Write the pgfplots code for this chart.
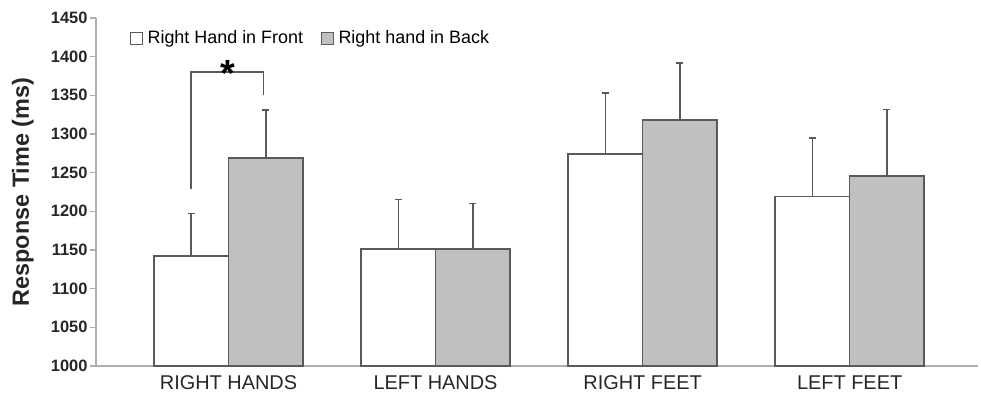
\documentclass[border=0pt]{standalone}
\usepackage{pgfplots}
\pgfplotsset{compat=1.18}
\usepackage{fontspec}
\setmainfont{Liberation Sans}
\definecolor{axisgray}{RGB}{175,175,175}
\definecolor{edgegray}{RGB}{90,90,90}
\definecolor{barfill}{RGB}{192,192,192}
\begin{document}
\begin{tikzpicture}
\begin{axis}[
  name=ax,
  scale only axis,
  width=882bp, height=348bp,
  xmin=-0.64, xmax=3.62,
  ymin=1000, ymax=1450,
  ytick={1000,1050,...,1450},
  xtick={0,1,2,3},
  xticklabels={RIGHT HANDS, LEFT HANDS, RIGHT FEET, LEFT FEET},
  axis x line*=bottom, axis y line*=left,
  axis line style={draw=axisgray, line width=1.2bp},
  tick align=outside,
  x tick style={draw=none},
  y tick style={draw=axisgray, line width=1.2bp},
  major tick length=6bp,
  /pgf/number format/assume math mode=true,
  /pgf/number format/1000 sep={},
  yticklabel style={font=\bfseries\fontsize{16.5}{16.5}\selectfont, text=black!85, xshift=1bp},
  xticklabel style={font=\fontsize{20}{20}\selectfont, text=black!85},
  ylabel={Response Time (ms)},
  every axis y label/.style={at={(axis description cs:-0.083,0.5)}, rotate=90, anchor=center,
    font=\bfseries\fontsize{23.5}{23.5}\selectfont, text=black!85},
  legend style={at={(axis description cs:0.0385,0.9425)}, anchor=west, draw=none, fill=none,
    inner sep=0pt, legend columns=2, font=\fontsize{18}{18}\selectfont,
    /tikz/every even column/.append style={column sep=16bp}},
  legend cell align=left,
]
\addplot[ybar, bar width=0.36, bar shift=0, fill=white, draw=edgegray, line width=1.5bp,
  legend image code/.code={\draw[fill=white, draw=edgegray, line width=0.9bp] (0bp,-6bp) rectangle (12bp,6bp); \path[draw=none, fill=none] (12bp,0) -- (15bp,0);},
  error bars/.cd, y dir=plus, y explicit,
  error bar style={draw=edgegray, line width=1.5bp},
  error mark options={rotate=90, draw=edgegray, mark size=3.5bp, line width=1.5bp}]
  coordinates {(-0.18,1142) +- (0,55) (0.82,1151) +- (0,64) (1.82,1274) +- (0,79) (2.82,1219) +- (0,76)};
\addplot[ybar, bar width=0.36, bar shift=0, fill=barfill, draw=edgegray, line width=1.5bp,
  legend image code/.code={\draw[fill=barfill, draw=edgegray, line width=0.9bp] (0bp,-6bp) rectangle (12bp,6bp); \path[draw=none, fill=none] (12bp,0) -- (15bp,0);},
  error bars/.cd, y dir=plus, y explicit,
  error bar style={draw=edgegray, line width=1.5bp},
  error mark options={rotate=90, draw=edgegray, mark size=3.5bp, line width=1.5bp}]
  coordinates {(0.18,1269) +- (0,62) (1.18,1151) +- (0,59) (2.18,1318) +- (0,74) (3.18,1246) +- (0,86)};
\legend{Right Hand in Front, Right hand in Back}
\draw[edgegray, line width=1.5bp] (axis cs:-0.18,1229) -- (axis cs:-0.18,1380) -- (axis cs:0.17,1380) -- (axis cs:0.17,1350);
\node[font=\bfseries\fontsize{38}{38}\selectfont, anchor=base, inner sep=0pt] at (axis cs:-0.005,1361) {*};
\end{axis}
\pgfresetboundingbox
\path ([shift={(-96bp,-36bp)}]ax.south west) rectangle ([shift={(3bp,18bp)}]ax.north east);
\end{tikzpicture}
\end{document}
